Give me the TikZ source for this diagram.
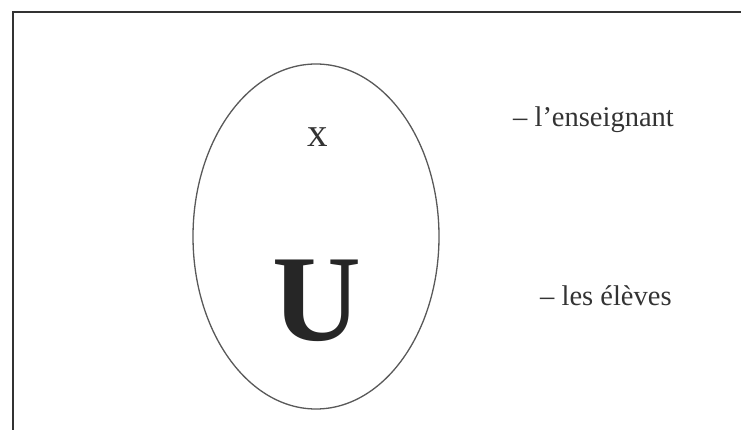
\documentclass[tikz,border=0pt]{standalone}
\usepackage{fontspec}
\setmainfont{Liberation Serif}
\usetikzlibrary{shapes.geometric}
\tikzset{
  frameline/.style={line width=2pt, draw=black!80},
  oval/.style={ellipse, draw=black!65, line width=1.3pt, minimum width=246pt, minimum height=345pt, inner sep=0pt},
  label/.style={anchor=base west, inner sep=0pt, text=black!80, font=\fontsize{28.5}{34}\selectfont},
}
\begin{document}
\begin{tikzpicture}[x=1pt,y=-1pt]
\useasboundingbox[fill=white] (0,0) rectangle (741,430);
\coordinate (bl) at (12.5,430);
\coordinate (tl) at (12.5,12.5);
\coordinate (tr) at (741,12.5);
\draw[frameline] (bl) -- (tl) -- (tr);
\node[oval] (e) at (316,236.5) {};
\node[anchor=base, inner sep=0pt, text=black!80, font=\fontsize{41}{48}\selectfont] (x) at (318,147) {x};
\node[anchor=base, inner sep=0pt, text=black!85, font=\fontsize{123}{130}\selectfont\bfseries] (u) at (317,340) {U};
\node[label] (t1) at (513,127) {– l’enseignant};
\node[label] (t2) at (540,305) {– les élèves};
\end{tikzpicture}
\end{document}
